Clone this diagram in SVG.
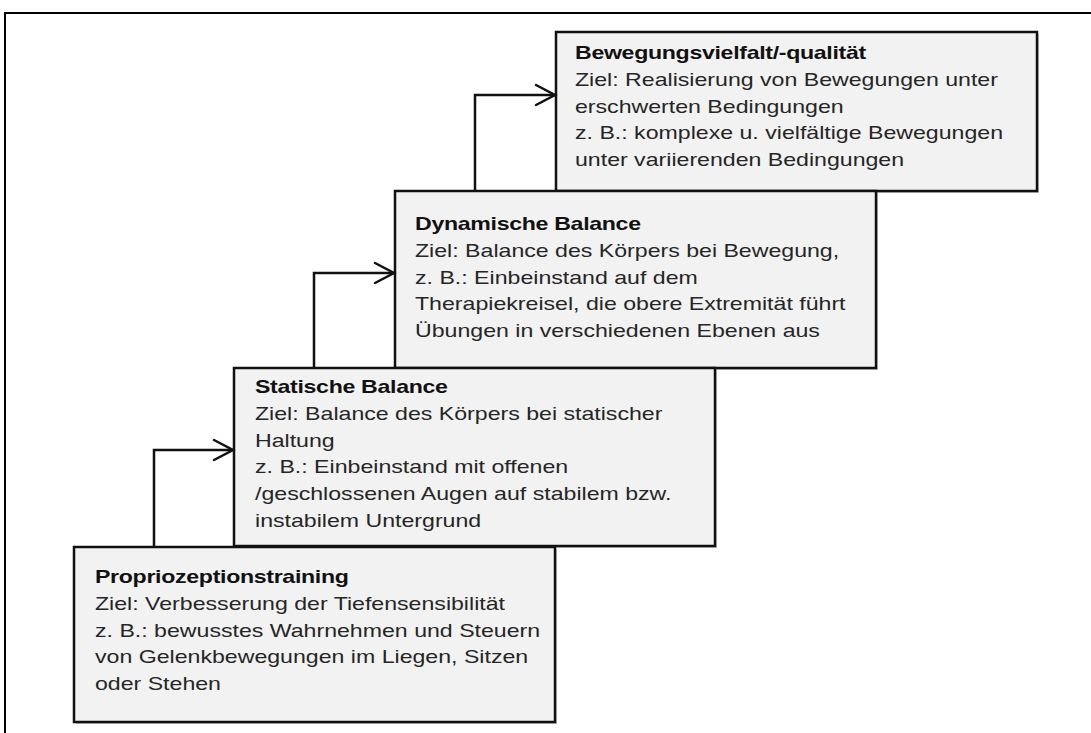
<svg xmlns="http://www.w3.org/2000/svg" width="1091" height="733" viewBox="0 0 1091 733">
  <style>
    .box { fill: #f2f2f2; stroke: #111; stroke-width: 2.5; }
    .shadow { fill: #c4c4c4; }
    .conn { fill: none; stroke: #111; stroke-width: 2.5; stroke-linejoin: miter; }
    .head { fill: none; stroke: #111; stroke-width: 2.5; stroke-linecap: round; stroke-linejoin: miter; }
    .frame { fill: none; stroke: #000; stroke-width: 2; }
    text { font-family: "Liberation Sans", Arial, sans-serif; font-size: 18.5px; fill: #262626; }
    .title { font-weight: bold; fill: #111; letter-spacing: -0.25px; }
  </style>

  <!-- outer frame, open to the right and bottom -->
  <path class="frame" d="M 5 733 V 13 H 1091"/>

  <!-- stage boxes -->
  <g id="stage-bewegungsvielfalt">
    <rect class="shadow" x="558" y="34" width="481" height="159"/>
    <rect class="box" x="556" y="32" width="481" height="159"/>
    <g transform="translate(575 0) scale(1.25 1)">
      <text class="title" x="0" y="59">Bewegungsvielfalt/-qualität</text>
      <text x="0" y="85.8">Ziel: Realisierung von Bewegungen unter</text>
      <text x="0" y="112.6">erschwerten Bedingungen</text>
      <text x="0" y="139.4">z. B.: komplexe u. vielfältige Bewegungen</text>
      <text x="0" y="166.2">unter variierenden Bedingungen</text>
    </g>
  </g>

  <g id="stage-dynamische-balance">
    <rect class="shadow" x="397" y="193" width="481" height="177"/>
    <rect class="box" x="395" y="191" width="481" height="177"/>
    <g transform="translate(415 0) scale(1.25 1)">
      <text class="title" x="0" y="230">Dynamische Balance</text>
      <text x="0" y="256.8">Ziel: Balance des Körpers bei Bewegung,</text>
      <text x="0" y="283.6">z. B.: Einbeinstand auf dem</text>
      <text x="0" y="310.4">Therapiekreisel, die obere Extremität führt</text>
      <text x="0" y="337.2">Übungen in verschiedenen Ebenen aus</text>
    </g>
  </g>

  <g id="stage-statische-balance">
    <rect class="shadow" x="236" y="370" width="481" height="178"/>
    <rect class="box" x="234" y="368" width="481" height="178"/>
    <g transform="translate(255 0) scale(1.25 1)">
      <text class="title" x="0" y="393">Statische Balance</text>
      <text x="0" y="419.8">Ziel: Balance des Körpers bei statischer</text>
      <text x="0" y="446.6">Haltung</text>
      <text x="0" y="473.4">z. B.: Einbeinstand mit offenen</text>
      <text x="0" y="500.2">/geschlossenen Augen auf stabilem bzw.</text>
      <text x="0" y="527">instabilem Untergrund</text>
    </g>
  </g>

  <g id="stage-propriozeption">
    <rect class="shadow" x="76" y="549" width="481" height="175"/>
    <rect class="box" x="74" y="547" width="481" height="175"/>
    <g transform="translate(95 0) scale(1.25 1)">
      <text class="title" x="0" y="583">Propriozeptionstraining</text>
      <text x="0" y="609.8">Ziel: Verbesserung der Tiefensensibilität</text>
      <text x="0" y="636.6">z. B.: bewusstes Wahrnehmen und Steuern</text>
      <text x="0" y="663.4">von Gelenkbewegungen im Liegen, Sitzen</text>
      <text x="0" y="690.2">oder Stehen</text>
    </g>
  </g>

  <!-- step connectors with open arrowheads -->
  <g id="connectors">
    <path class="conn" d="M 154 547 V 450 H 233"/>
    <path class="head" d="M 214 440 L 233 450 L 214 460"/>

    <path class="conn" d="M 314 368 V 273 H 394"/>
    <path class="head" d="M 375 263 L 394 273 L 375 283"/>

    <path class="conn" d="M 475 191 V 95 H 555"/>
    <path class="head" d="M 536 85 L 555 95 L 536 105"/>
  </g>
</svg>
